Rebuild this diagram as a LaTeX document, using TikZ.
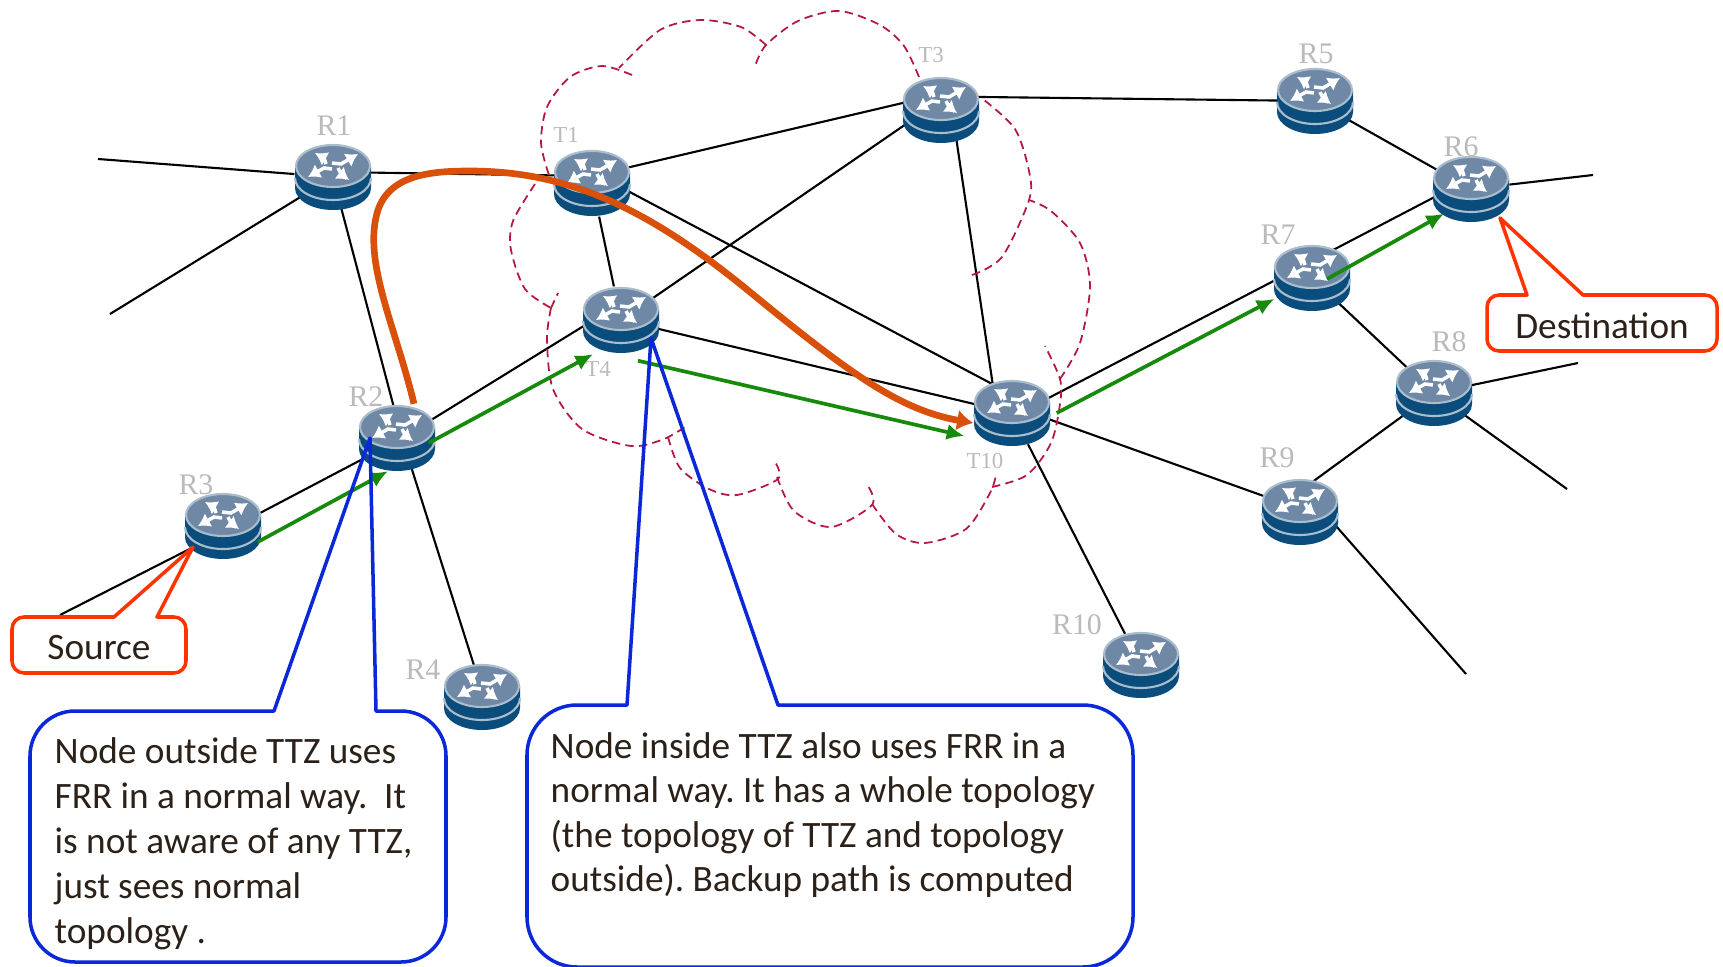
\documentclass[tikz,border=0pt]{standalone}
\usepackage{fontspec}
\setmainfont{Carlito}
\newfontfamily\labelfont{Liberation Serif}
\usetikzlibrary{arrows.meta,shapes.geometric}

\definecolor{routerdark}{HTML}{0A4D7C}
\definecolor{routertop}{HTML}{6E88A6}
\definecolor{routerrim}{HTML}{A9BDCC}
\definecolor{ttzred}{HTML}{B5173E}
\definecolor{pathgreen}{HTML}{178A0C}
\definecolor{pathorange}{HTML}{D9500A}
\definecolor{notered}{HTML}{FF3300}
\definecolor{noteblue}{HTML}{0A28D8}
\definecolor{notetext}{HTML}{2B2118}

\tikzset{
  router/.style={shape=ellipse, minimum width=0.76cm, minimum height=0.67cm, inner sep=0pt},
  rlabel/.style={font=\labelfont\fontsize{8.5}{10}\selectfont, text=black!27, inner sep=0pt},
  tlabel/.style={font=\labelfont\fontsize{6.5}{8}\selectfont, text=black!27, inner sep=0pt},
  link/.style={line width=0.6pt},
  ttz/.style={ttzred, line width=0.5pt, dash pattern=on 2.4pt off 1.5pt},
  backup/.style={pathgreen, line width=1.05pt, -{Latex[length=5pt,width=4.6pt]}},
  tunnel/.style={pathorange, line width=1.9pt, -{Latex[length=4.6pt,width=6pt]}},
  rednote/.style={notered, line width=1pt, line join=round},
  bluenote/.style={noteblue, line width=1pt, line join=round},
  notetxt/.style={text=notetext, font=\frenchspacing\fontsize{10.6}{12.8}\selectfont, inner sep=0pt, align=left},
  router icon/.pic={
    \fill[routerdark] (-0.38,0.11) -- (-0.38,-0.11) arc[start angle=180, end angle=360, x radius=0.38, y radius=0.22] -- (0.38,0.11) -- cycle;
    \draw[routerrim, line width=0.6pt] (-0.38,-0.01) arc[start angle=180, end angle=360, x radius=0.38, y radius=0.22];
    \draw[routerrim, fill=routertop, line width=0.6pt] (0,0.11) ellipse[x radius=0.37, y radius=0.21];
    \begin{scope}[white, line width=1pt, -{Latex[length=3.4pt,width=4.4pt]}, yshift=0.11cm]
      \draw (-0.01,0.03) -- (0.08,0.02) -- (0.25,0.12);
      \draw (-0.01,-0.03) -- (-0.09,-0.02) -- (-0.25,-0.11);
      \draw (-0.07,0.02) -- (-0.09,0.08) -- (-0.18,0.13);
      \draw (0.05,-0.02) -- (0.08,-0.08) -- (0.16,-0.14);
    \end{scope}
  }
}

\begin{document}
\begin{tikzpicture}
    \useasboundingbox (0,0) rectangle (17.23,-9.67);

    \node[router] (r1) at (3.33,-1.77) {};
    \node[router] (t1) at (5.92,-1.83) {};
    \node[router] (t3) at (9.41,-1.10) {};
    \node[router] (r5) at (13.15,-1.01) {};
    \node[router] (r6) at (14.71,-1.89) {};
    \node[router] (r7) at (13.12,-2.78) {};
    \node[router] (t4) at (6.21,-3.20) {};
    \node[router] (r2) at (3.97,-4.38) {};
    \node[router] (t10) at (10.12,-4.13) {};
    \node[router] (r8) at (14.34,-3.93) {};
    \node[router] (r3) at (2.23,-5.26) {};
    \node[router] (r9) at (13.00,-5.12) {};
    \node[router] (r4) at (4.82,-6.97) {};
    \node[router] (r10) at (11.41,-6.65) {};

    \coordinate (e1) at (0.98,-1.59);
    \coordinate (e2) at (1.10,-3.14);
    \coordinate (e3) at (0.60,-6.15);
    \coordinate (e6) at (15.93,-1.75);
    \coordinate (e8a) at (15.78,-3.63);
    \coordinate (e8b) at (15.67,-4.89);
    \coordinate (e9) at (14.66,-6.74);

    %%%%%%%%%%%%%%%%%%%%%%%%%%%%%%%%%%%%%%%%

    \draw[link] (r1) -- (e1);
    \draw[link] (r1) -- (e2);
    \draw[link] ([yshift=-0.06cm]r3.center) -- (e3);
    \draw[link] (r6) -- (e6);
    \draw[link] (r8) -- (e8a);
    \draw[link] (r8) -- (e8b);
    \draw[link] ([yshift=0.27cm]r9.center) -- (e9);
    \draw[link] ([yshift=0.05cm]r1.center) -- ([yshift=0.07cm]t1.center);
    \draw[link] (r1.center) -- ([xshift=0.05cm]r2.center);
    \draw[link] ([yshift=0.07cm]t1.center) -- ([yshift=0.16cm]t3.center);
    \draw[link] (t1) -- (t4);
    \draw[link] ([yshift=0.11cm]t1.center) -- ([yshift=0.185cm]t10.center);
    \draw[link] ([yshift=0.10cm]t3.center) -- (t4.center);
    \draw[link] ([yshift=0.135cm]t3.center) -- (r5.center);
    \draw[link] ([xshift=0.11cm]t3.center) -- ([xshift=-0.15cm]t10.center);
    \draw[link] ([yshift=0.17cm]t4.center) -- ([yshift=-0.03cm]r2.center);
    \draw[link] (t4) -- (t10);
    \draw[link] ([yshift=-0.03cm]r2.center) -- ([yshift=-0.065cm]r3.center);
    \draw[link] ([xshift=0.05cm]r2.center) -- ([xshift=0.02cm]r4.center);
    \draw[link] ([yshift=-0.04cm]t10.center) -- ([yshift=0.17cm]r7.center);
    \draw[link] ([yshift=0.07cm]t10.center) -- ([yshift=0.03cm]r9.center);
    \draw[link] (t10) -- (r10);
    \draw[link] (r5) -- (r6);
    \draw[link] ([yshift=0.17cm]r7.center) -- ([yshift=0.11cm]r6.center);
    \draw[link] (r7) -- (r8);
    \draw[link] (r8.center) -- ([yshift=0.21cm]r9.center);

    %%%%%%%%%%%%%%%%%%%%%%%%%%%%%%%%%%%%%%%%

    \draw[ttz] plot[smooth] coordinates {(6.32,-0.75) (6.02,-0.66) (5.70,-0.77) (5.47,-1.07) (5.41,-1.43) (5.49,-1.75)};
    \draw[ttz] plot[smooth] coordinates {(5.35,-1.84) (5.13,-2.21) (5.11,-2.50) (5.25,-2.89) (5.51,-3.08)};
    \draw[ttz] (5.51,-3.08) -- (5.58,-2.93);
    \draw[ttz] plot[smooth] coordinates {(5.51,-3.08) (5.47,-3.39) (5.53,-3.89) (5.82,-4.29) (6.31,-4.46) (6.64,-4.39) (6.88,-4.25)};
    \draw[ttz] plot[smooth] coordinates {(6.68,-4.37) (6.80,-4.68) (7.09,-4.89) (7.37,-4.95) (7.78,-4.79) (7.75,-4.62)};
    \draw[ttz] plot[smooth] coordinates {(7.77,-4.77) (7.94,-5.11) (8.31,-5.27) (8.72,-5.05) (8.68,-4.86)};
    \draw[ttz] plot[smooth] coordinates {(8.72,-5.04) (8.96,-5.34) (9.25,-5.43) (9.66,-5.29) (9.90,-4.93) (9.96,-4.75)};
    \draw[ttz] plot[smooth] coordinates {(9.92,-4.87) (10.27,-4.75) (10.51,-4.43) (10.60,-4.04) (10.60,-3.79) (10.45,-3.46)};
    \draw[ttz] plot[smooth] coordinates {(10.60,-3.79) (10.80,-3.43) (10.90,-2.86) (10.80,-2.43) (10.51,-2.11) (10.29,-2.00)};
    \draw[ttz] plot[smooth] coordinates {(9.72,-2.75) (10.02,-2.57) (10.29,-2.00) (10.29,-1.71) (10.15,-1.29) (9.84,-1.00)};
    \draw[ttz] plot[smooth] coordinates {(9.19,-0.77) (9.04,-0.46) (8.80,-0.25) (8.39,-0.11) (7.98,-0.21) (7.66,-0.45) (7.55,-0.66)};
    \draw[ttz] plot[smooth] coordinates {(7.66,-0.45) (7.41,-0.27) (7.00,-0.20) (6.60,-0.30) (6.19,-0.68)};

    %%%%%%%%%%%%%%%%%%%%%%%%%%%%%%%%%%%%%%%%

    \node[rlabel] (lr1) at (3.34,-1.26) {R1};
    \node[tlabel] (lt1) at (5.66,-1.35) {T1};
    \node[tlabel] (lt3) at (9.31,-0.55) {T3};
    \node[rlabel] (lr5) at (13.16,-0.54) {R5};
    \node[rlabel] (lr6) at (14.61,-1.47) {R6};
    \node[rlabel] (lr7) at (12.78,-2.35) {R7};
    \node[tlabel] (lt4) at (5.98,-3.69) {T4};
    \node[rlabel] (lr2) at (3.66,-3.97) {R2};
    \node[tlabel] (lt10) at (9.85,-4.61) {T10};
    \node[rlabel] (lr8) at (14.49,-3.42) {R8};
    \node[rlabel] (lr3) at (1.96,-4.85) {R3};
    \node[rlabel] (lr9) at (12.77,-4.58) {R9};
    \node[rlabel] (lr4) at (4.23,-6.70) {R4};
    \node[rlabel] (lr10) at (10.77,-6.25) {R10};

    \foreach \n in {r1,t1,t3,r5,r6,r7,t4,r2,t10,r8,r3,r9,r4,r10}
        \pic at (\n) {router icon};

    %%%%%%%%%%%%%%%%%%%%%%%%%%%%%%%%%%%%%%%%

    \draw[backup] ([shift={(-0.04,-0.16)}]r3.east) -- ([shift={(-0.09,0.01)}]r2.south);
    \draw[backup] ([shift={(-0.07,-0.05)}]r2.east) -- ([shift={(-0.28,0)}]t4.south);
    \draw[backup] ([shift={(0.17,-0.065)}]t4.south) -- ([shift={(-0.09,-0.23)}]t10.west);
    \draw[backup] ([shift={(0.06,0)}]t10.east) -- ([shift={(0.01,-0.21)}]r7.west);
    \draw[backup] ([shift={(0.15,-0.01)}]r7.center) -- ([shift={(-0.27,0.095)}]r6.south);

    \draw[tunnel] ([xshift=0.17cm]r2.north) .. controls (3.95,-3.25) and (3.62,-2.60) .. (3.78,-2.10)
        .. controls (3.90,-1.75) and (4.30,-1.71) .. (4.70,-1.71)
        .. controls (5.70,-1.71) and (6.50,-2.10) .. (7.50,-2.92)
        .. controls (8.50,-3.74) and (9.00,-4.10) .. ([yshift=-0.10cm]t10.west);

    %%%%%%%%%%%%%%%%%%%%%%%%%%%%%%%%%%%%%%%%

    \coordinate (srctip) at (1.93,-5.47);
    \coordinate (dsttip) at (15.00,-2.18);
    \coordinate (outtip) at (3.70,-4.38);
    \coordinate (intip) at (6.51,-3.38);

    \draw[rednote] (1.57,-6.17) [rounded corners=0.12cm] -- (1.86,-6.17) -- (1.86,-6.73) -- (0.12,-6.73) -- (0.12,-6.17) [sharp corners] -- (1.14,-6.17) -- (srctip) -- cycle;
    \draw[rednote] (15.83,-2.95) [rounded corners=0.12cm] -- (17.17,-2.95) -- (17.17,-3.51) -- (14.87,-3.51) -- (14.87,-2.95) [sharp corners] -- (15.27,-2.95) -- (dsttip) -- cycle;
    \draw[bluenote] (3.76,-7.11) [rounded corners=0.45cm] -- (4.46,-7.11) -- (4.46,-9.62) -- (0.30,-9.62) -- (0.30,-7.11) [sharp corners] -- (2.74,-7.11) -- (outtip) -- cycle;
    \draw[bluenote] (7.78,-7.05) [rounded corners=0.5cm] -- (11.33,-7.05) -- (11.33,-9.67) -- (5.27,-9.67) -- (5.27,-7.05) [sharp corners] -- (6.27,-7.05) -- (intip) -- cycle;

    \node[notetxt] (source) at (0.99,-6.48) {Source};
    \node[notetxt] (destination) at (16.02,-3.26) {Destination};
    \node[notetxt, anchor=north west] (outside) at (0.54,-7.365) {Node outside TTZ uses\\FRR in a normal way.~~It\\is not aware of any TTZ,\\just sees normal\\topology .};
    \node[notetxt, anchor=north west, font=\frenchspacing\fontsize{10.6}{12.6}\selectfont] (inside) at (5.50,-7.32) {Node inside TTZ also uses FRR in a\\normal way. It has a whole topology\\(the topology of TTZ and topology\\outside). Backup path is computed};

\end{tikzpicture}
\end{document}
